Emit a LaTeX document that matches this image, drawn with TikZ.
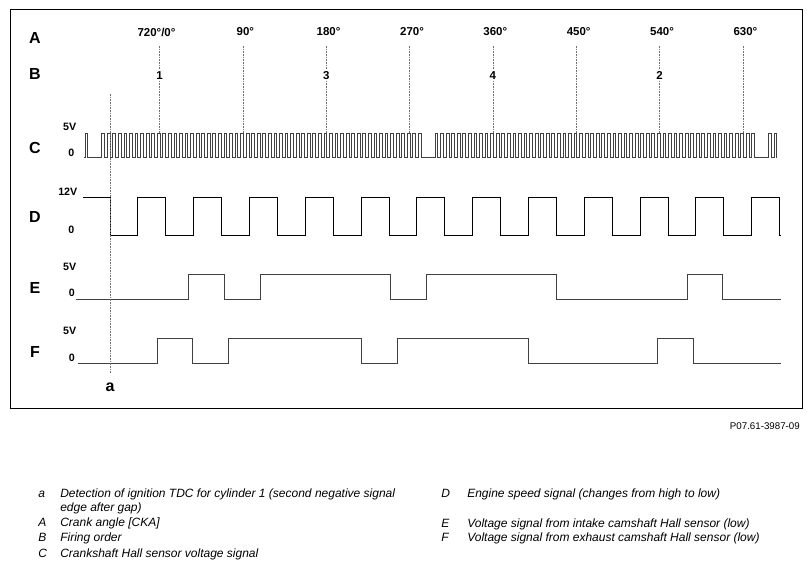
\documentclass[tikz,border=0pt]{standalone}
\usepackage{fontspec}
\setmainfont{Liberation Sans}
\usepackage{tikz}

\tikzstyle{rowltr} = [font=\fontsize{12}{14}\selectfont\bfseries, inner sep=0pt]
\tikzstyle{anglbl} = [font=\fontsize{8.6}{10}\selectfont\bfseries, inner sep=0pt]
\tikzstyle{cyl} = [font=\fontsize{8.6}{10}\selectfont\bfseries, inner sep=1.2pt, fill=white]
\tikzstyle{volt} = [font=\fontsize{8}{9}\selectfont\bfseries, inner sep=0pt, anchor=east]
\tikzstyle{guide} = [black!55, line width=0.6pt, dash pattern=on 1.2pt off 0.8pt]
\tikzstyle{wave} = [black!75, line width=0.75pt]
\tikzstyle{keytxt} = [font=\fontsize{9}{11}\selectfont\itshape, inner sep=0pt, anchor=base west]
\newcommand{\Tp}{5.557}  % crank tooth pitch
\newcommand{\Dp}{55.8}   % engine speed period

\begin{document}
\begin{tikzpicture}[x=0.75pt, y=-0.75pt]
\useasboundingbox (0,0) rectangle (812,569);
\draw[line width=0.75pt] (10,9) rectangle (802,408);

% row letters
\foreach \l/\y in {A/38,B/74,C/148,D/216.7,E/287.5,F/352}
	\node[rowltr] (row\l) at (35,\y) {\l};

% crank angle marks
\foreach \x/\lx/\ang [count=\i] in {159.5/156.5/{720°/0°},242.9/245.3/90°,326.2/328.6/180°,409.6/412/270°,492.9/495.3/360°,576.3/578.7/450°,659.6/662/540°,743/745.4/630°} {
	\node[anglbl] (ang\i) at (\lx,32) {\ang};
	\coordinate (gt\i) at (\x,46);
	\coordinate (gb\i) at (\x,133);
	\draw[guide] (gt\i) -- (gb\i);
}
% firing order
\foreach \n/\c in {1/1,3/3,5/4,7/2}
	\node[cyl] (cyl\c) at (gt\n |- 0,75.5) {\c};

% voltage levels
\node[volt] (c5) at (76.5,127) {5V};
\node[volt] (c0) at (74.5,152.5) {0};
\node[volt] (d12) at (77.5,191.7) {12V};
\node[volt] (d0) at (74.5,229.7) {0};
\node[volt] (e5) at (76.5,266.7) {5V};
\node[volt] (e0) at (75,293) {0};
\node[volt] (f5) at (76.5,331.3) {5V};
\node[volt] (f0) at (75,358) {0};

% C: crankshaft Hall sensor, 60-2 wheel
\draw[wave, line width=0.6pt] (84,157.5)
	\foreach \k in {0,...,124} {
		-- ({85+\k*\Tp},157.5) -- ({85+\k*\Tp},{133+24.5*((mod(\k,60)==1)+(mod(\k,60)==2))})
		-- ({85+(\k+0.5)*\Tp},{133+24.5*((mod(\k,60)==1)+(mod(\k,60)==2))}) -- ({85+(\k+0.5)*\Tp},157.5)
	};

% D: engine speed
\draw[wave, black] (83,197)
	\foreach \k in {0,...,11} {
		-- ({110+\k*\Dp},197) -- ({110+\k*\Dp},235)
		-- ({137.9+\k*\Dp},235) -- ({137.9+\k*\Dp},197)
	}
	-- (779.6,197) -- (779.6,235) -- (781,235);

% E: intake camshaft
\draw[wave] (76,299) -| (188.7,274) -| (224.7,299) -| (260,274) -| (390.7,299) -| (426.7,274) -| (556.7,299) -| (687.3,274) -| (722.3,299) -- (781,299);
% F: exhaust camshaft
\draw[wave] (78,363.3) -| (157.3,338) -| (192.7,363.3) -| (228.7,338) -| (361.3,363.3) -| (397.7,338) -| (528.3,363.3) -| (657.7,338) -| (693.7,363.3) -- (781,363.3);

% mark a
\coordinate (atop) at (110,94);
\node[rowltr] (amark) at (110,387.5) {a};
\draw[guide, shorten >=7pt] (atop) -- (amark.north);

\node[font=\fontsize{7.3}{9}\selectfont, inner sep=0pt, anchor=base east] (ref) at (800,429) {P07.61-3987-09};

% legend
\node[keytxt] (ka) at (38,497) {a};
\node[keytxt] (ta) at (60,497) {Detection of ignition TDC for cylinder 1 (second negative signal};
\node[keytxt] (ta2) at (60,511.5) {edge after gap)};
\node[keytxt] (kA) at (38,526.5) {A};
\node[keytxt] (tA) at (60,526.5) {Crank angle [CKA]};
\node[keytxt] (kB) at (38,541.5) {B};
\node[keytxt] (tB) at (60,541.5) {Firing order};
\node[keytxt] (kC) at (38,557) {C};
\node[keytxt] (tC) at (60,557) {Crankshaft Hall sensor voltage signal};
\node[keytxt] (kD) at (441,497) {D};
\node[keytxt] (tD) at (467,497) {Engine speed signal (changes from high to low)};
\node[keytxt] (kE) at (441,527) {E};
\node[keytxt] (tE) at (467,527) {Voltage signal from intake camshaft Hall sensor (low)};
\node[keytxt] (kF) at (441,541.5) {F};
\node[keytxt] (tF) at (467,541.5) {Voltage signal from exhaust camshaft Hall sensor (low)};
\end{tikzpicture}
\end{document}
